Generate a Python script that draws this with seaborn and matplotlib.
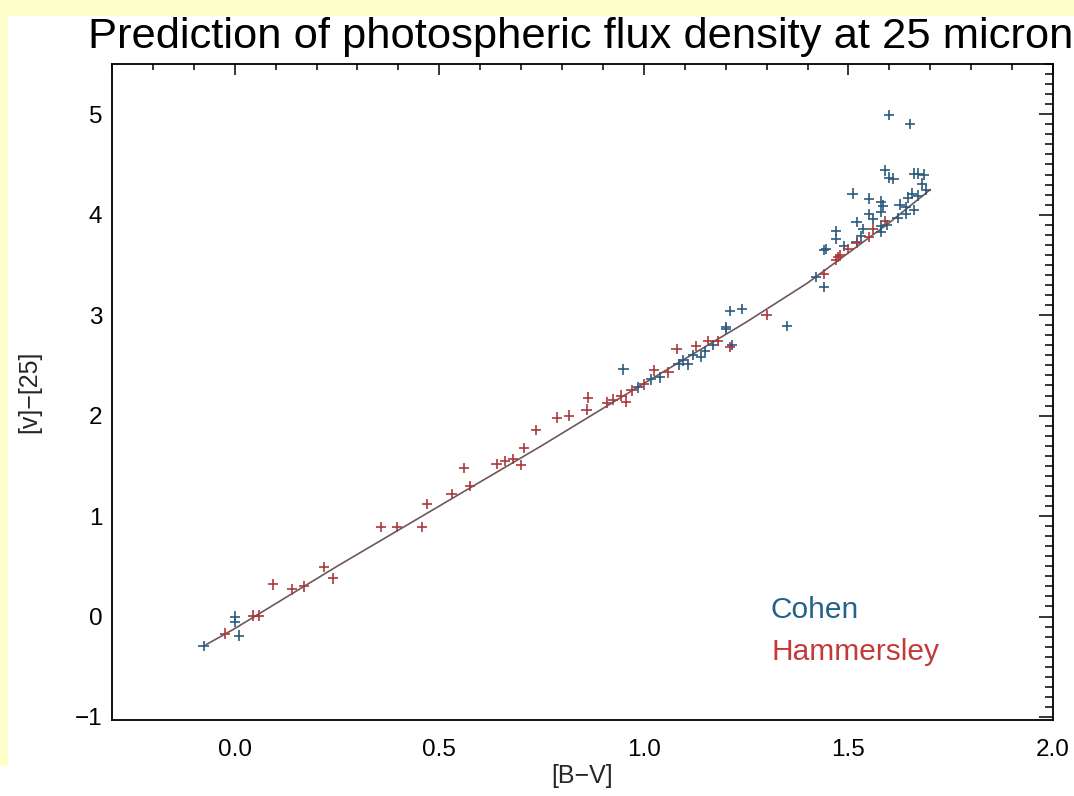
import numpy as np
import pandas as pd
import matplotlib
matplotlib.use("Agg")
import matplotlib.pyplot as plt
import seaborn as sns
from matplotlib.ticker import MultipleLocator, FormatStrFormatter
from matplotlib.patches import Rectangle

# ---------------- data ----------------
cohen_bv = [-0.076, 0.0, 0.0, 0.01, 0.95, 0.985, 1.017, 1.04, 1.085, 1.095, 1.107,
            1.12, 1.14, 1.15, 1.17, 1.2, 1.2, 1.21, 1.215, 1.24, 1.35, 1.42, 1.44,
            1.44, 1.445, 1.47, 1.47, 1.49, 1.51, 1.52, 1.52, 1.53, 1.535, 1.55, 1.55,
            1.56, 1.58, 1.585, 1.58, 1.58, 1.58, 1.595, 1.59, 1.60, 1.61, 1.60, 1.62,
            1.625, 1.64, 1.64, 1.645, 1.65, 1.655, 1.66, 1.66, 1.67, 1.67, 1.68,
            1.685, 1.69]
cohen_col = [-0.29, 0.0, -0.05, -0.19, 2.46, 2.28, 2.36, 2.38, 2.51, 2.55, 2.51,
             2.60, 2.58, 2.64, 2.70, 2.86, 2.88, 3.04, 2.70, 3.06, 2.89, 3.38, 3.28,
             3.65, 3.66, 3.76, 3.84, 3.69, 4.21, 3.73, 3.93, 3.79, 3.86, 4.16, 4.01,
             3.96, 4.13, 4.09, 4.03, 3.89, 3.83, 3.90, 4.44, 4.37, 4.36, 4.99, 3.97,
             4.10, 4.08, 4.01, 4.17, 4.90, 4.21, 4.41, 4.05, 4.19, 4.41, 4.31,
             4.40, 4.25]

ham_bv = [-0.024, 0.044, 0.06, 0.093, 0.14, 0.17, 0.218, 0.24, 0.357, 0.396, 0.457,
          0.47, 0.53, 0.56, 0.575, 0.64, 0.66, 0.68, 0.70, 0.707, 0.736, 0.787,
          0.817, 0.863, 0.86, 0.91, 0.925, 0.945, 0.956, 0.97, 1.0, 1.025, 1.06,
          1.08, 1.127, 1.156, 1.18, 1.21, 1.30, 1.44, 1.47, 1.475, 1.48, 1.50,
          1.52, 1.55, 1.56, 1.59]
ham_col = [-0.17, 0.01, 0.01, 0.32, 0.27, 0.30, 0.49, 0.38, 0.89, 0.89, 0.89,
           1.12, 1.22, 1.48, 1.30, 1.52, 1.55, 1.57, 1.51, 1.68, 1.86, 1.98,
           2.00, 2.18, 2.06, 2.13, 2.16, 2.20, 2.14, 2.25, 2.31, 2.45, 2.43,
           2.66, 2.69, 2.74, 2.74, 2.68, 3.00, 3.41, 3.55, 3.58, 3.60, 3.66,
           3.72, 3.78, 3.86, 3.94]

fit_bv = [-0.07, 0.0, 0.25, 0.5, 0.75, 1.0, 1.25, 1.4, 1.5, 1.6, 1.7]
fit_col = [-0.28, -0.12, 0.50, 1.10, 1.70, 2.32, 2.93, 3.32, 3.62, 3.92, 4.25]

source_names = ["Cohen", "Hammersley"]
title_text = "Prediction of photospheric flux density at 25 micron"

# ---------------- style ----------------
sns.set_style("white")
plt.rcParams['font.family'] = ['Liberation Sans', 'DejaVu Sans']

cohen_color = "#23628a"
ham_color = "#c23b3b"
marker_colors = {"Cohen": "#2b5a7c", "Hammersley": "#a83a3e"}

W, H = 1074, 796
fig = plt.figure(figsize=(W / 100, H / 100), dpi=100, facecolor="#FFFFCC")
fig.add_artist(Rectangle((8 / W, 0), 1, (H - 16) / H, transform=fig.transFigure,
                         facecolor="white", edgecolor="none", zorder=-10))
fig.add_artist(Rectangle((0, 0), 8 / W, 30 / H, transform=fig.transFigure,
                         facecolor="white", edgecolor="none", zorder=-10))

ax = fig.add_axes([112 / W, (H - 720) / H, (1053 - 112) / W, (720 - 64) / H])
ax.set_facecolor("white")

df = pd.DataFrame({
    "bv": cohen_bv + ham_bv,
    "col": cohen_col + ham_col,
    "source": [source_names[0]] * len(cohen_bv) + [source_names[1]] * len(ham_bv),
})

sns.lineplot(x=fit_bv, y=fit_col, sort=False, color="#6e5858", lw=1.2, ax=ax,
             zorder=1)
sns.scatterplot(data=df, x="bv", y="col", hue="source", palette=marker_colors,
                marker="+", s=55, linewidth=1.2, legend=False, ax=ax, zorder=2)

ax.set_xlim(-0.3, 2.0)
ax.set_ylim(-1.03, 5.5)
ax.xaxis.set_major_locator(MultipleLocator(0.5))
ax.xaxis.set_minor_locator(MultipleLocator(0.1))
ax.xaxis.set_major_formatter(FormatStrFormatter("%.1f"))
ax.yaxis.set_major_locator(MultipleLocator(1))
ax.yaxis.set_minor_locator(MultipleLocator(0.1))

ax.tick_params(which="both", direction="in", top=True, right=True, colors="black",
               width=1.1)
ax.tick_params(axis="x", which="major", length=8, pad=14, labelsize=17.5)
ax.tick_params(axis="x", which="minor", length=4.5)
ax.tick_params(axis="y", which="major", length=10, pad=7, labelsize=17.5)
ax.tick_params(axis="y", which="minor", length=6)
for s in ax.spines.values():
    s.set_color("black")
    s.set_linewidth(1.3)

ax.set_xlabel("[B\u2212V]", fontsize=18, labelpad=2)
ax.set_ylabel("[v]\u2212[25]", fontsize=18, labelpad=24)

# title fitted to width
t = fig.text(88 / W, 1 - 37 / H, title_text, fontsize=28, ha="left", va="center",
             color="black")
fig.canvas.draw()
bb = t.get_window_extent()
t.set_fontsize(28 * (1071 - 88) / bb.width)

fig.text(771 / W, 1 - 610 / H, source_names[0], color=cohen_color, fontsize=21.5,
         ha="left", va="center")
fig.text(771 / W, 1 - 652 / H, source_names[1], color=ham_color, fontsize=21.5,
         ha="left", va="center")

fig.savefig("out.png", dpi=100, facecolor=fig.get_facecolor())
